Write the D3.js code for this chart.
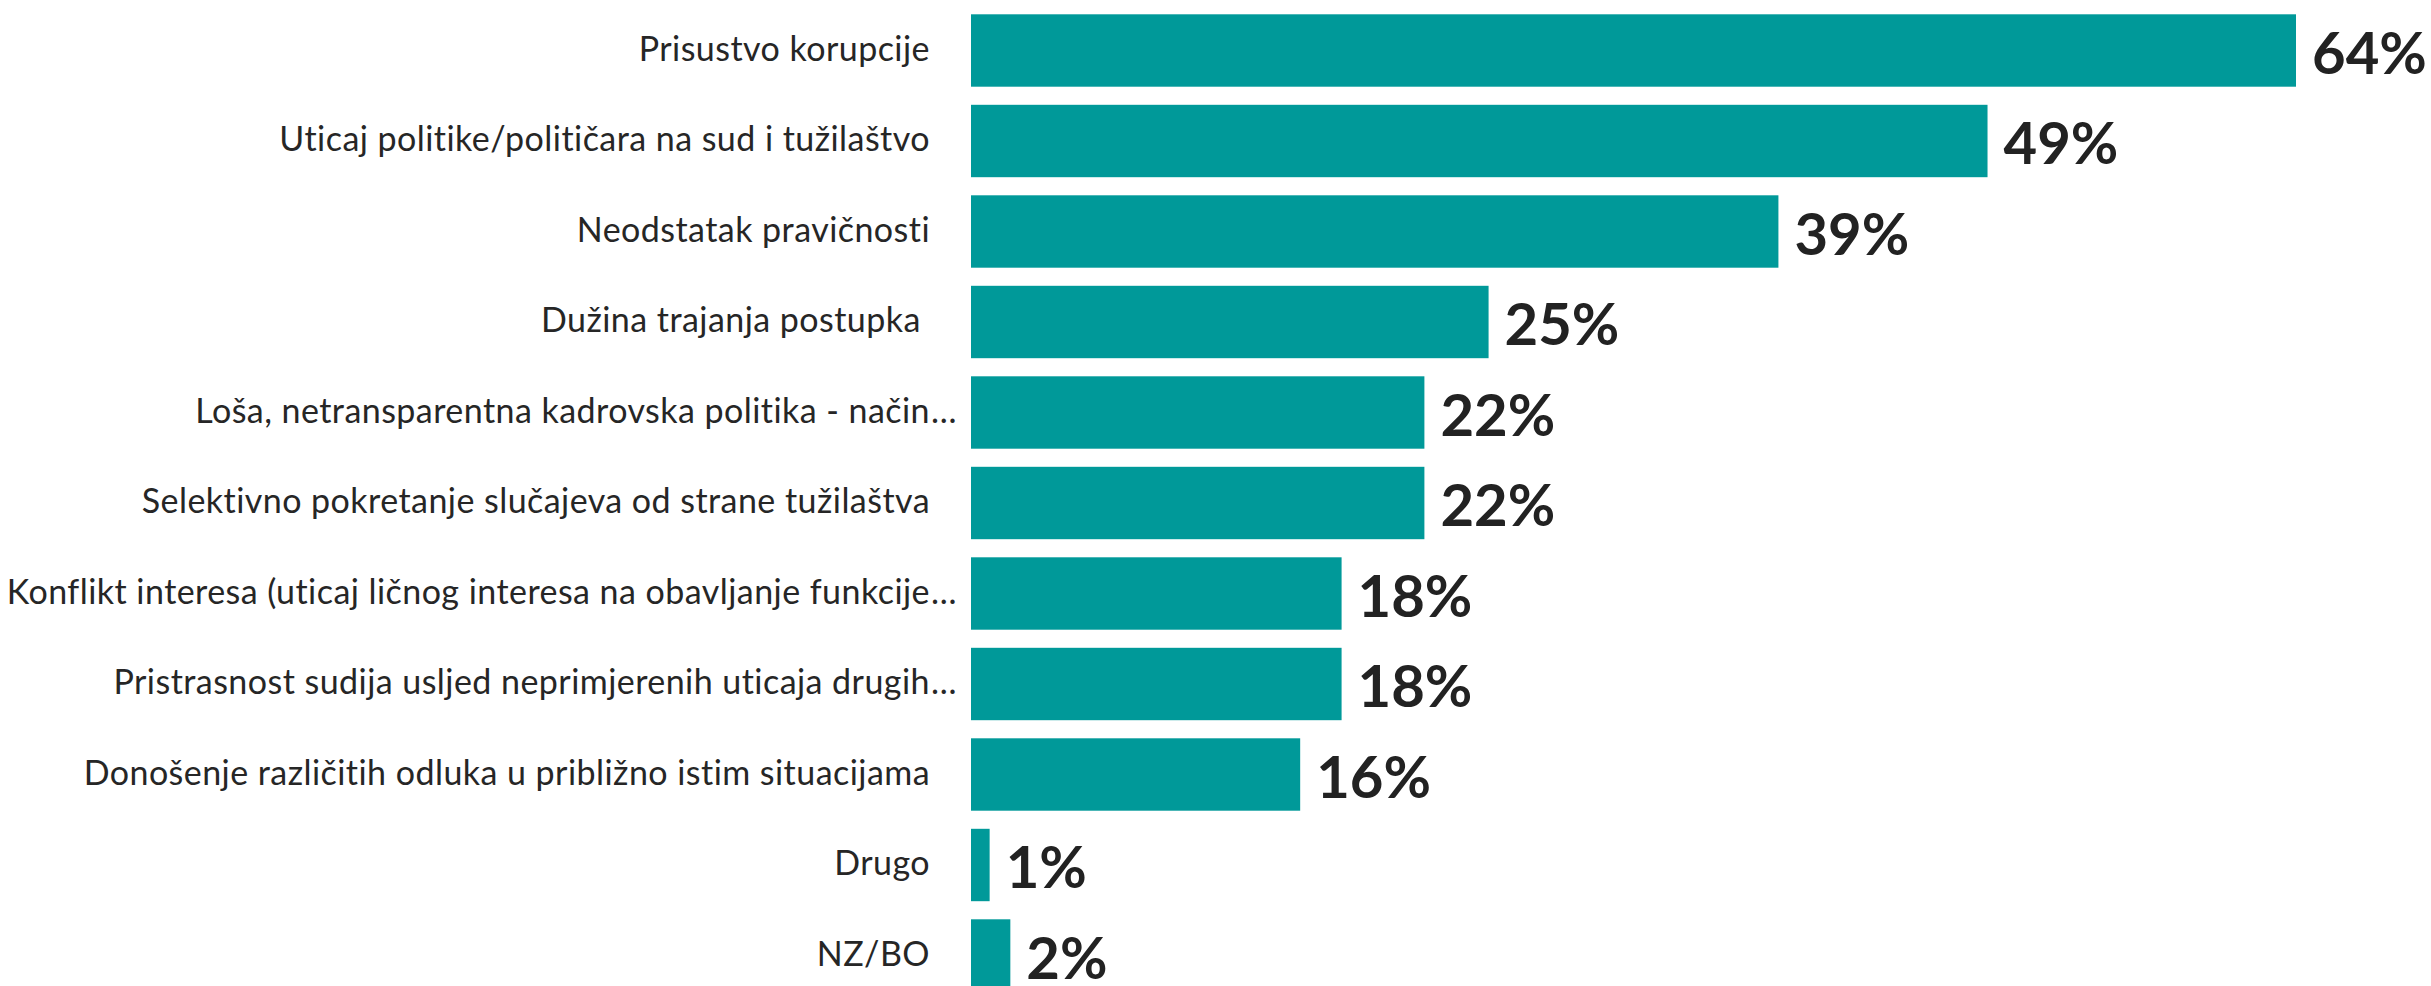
<!DOCTYPE html>
<html><head><meta charset="utf-8">
<script src="https://cdn.jsdelivr.net/npm/d3@7"></script>
<style>html,body{margin:0;padding:0;background:#fff;} svg{display:block;}</style>
</head><body>
<svg id="chart" width="2431" height="986"></svg>
<script>
const categories = [
  "Prisustvo korupcije",
  "Uticaj politike/političara na sud i tužilaštvo",
  "Neodstatak pravičnosti",
  "Dužina trajanja postupka ",
  "Loša, netransparentna kadrovska politika - način…",
  "Selektivno pokretanje slučajeva od strane tužilaštva",
  "Konflikt interesa (uticaj ličnog interesa na obavljanje funkcije…",
  "Pristrasnost sudija usljed neprimjerenih uticaja drugih…",
  "Donošenje različitih odluka u približno istim situacijama",
  "Drugo",
  "NZ/BO"
];
const values = [64, 49.1, 39, 25, 21.9, 21.9, 17.9, 17.9, 15.9, 0.9, 1.9];
const valueLabels = ["64%", "49%", "39%", "25%", "22%", "22%", "18%", "18%", "16%", "1%", "2%"];

const svg = d3.select("#chart");
const x = d3.scaleLinear().domain([0, d3.max(values)]).range([971, 2296]);
const y = d3.scaleBand().domain(categories).range([5.25, 1000.75]).paddingInner(0.2).paddingOuter(0.1);

svg.selectAll("rect.bar").data(categories).join("rect")
  .attr("class", "bar")
  .attr("x", x(0))
  .attr("y", d => y(d))
  .attr("width", (d, i) => x(values[i]) - x(0))
  .attr("height", y.bandwidth())
  .attr("fill", "#009999");

const labelX = 930;
const lab = svg.append("g").attr("font-family", "Lato, 'Open Sans', sans-serif")
  .attr("font-size", 34).attr("letter-spacing", 0.45).attr("fill", "#262626");
categories.forEach(c => {
  const ell = c.endsWith("…");
  const main = ell ? c.slice(0, -1) : c;
  const by = y(c) + y.bandwidth() / 2 + 10;
  lab.append("text").attr("x", labelX).attr("y", by)
    .attr("text-anchor", "end").style("white-space", "pre").text(main);
  if (ell) {
    lab.append("text").attr("x", labelX + 1).attr("y", by).text("…");
  }
});

svg.append("g").selectAll("text").data(categories).join("text")
  .attr("x", (d, i) => x(values[i]) + 16)
  .attr("y", d => y(d) + y.bandwidth() / 2 + 23)
  .attr("font-family", "Lato, 'Open Sans', sans-serif")
  .attr("font-weight", "bold")
  .attr("font-size", 58)
  .attr("fill", "#222")
  .text((d, i) => valueLabels[i]);
</script>
</body></html>
